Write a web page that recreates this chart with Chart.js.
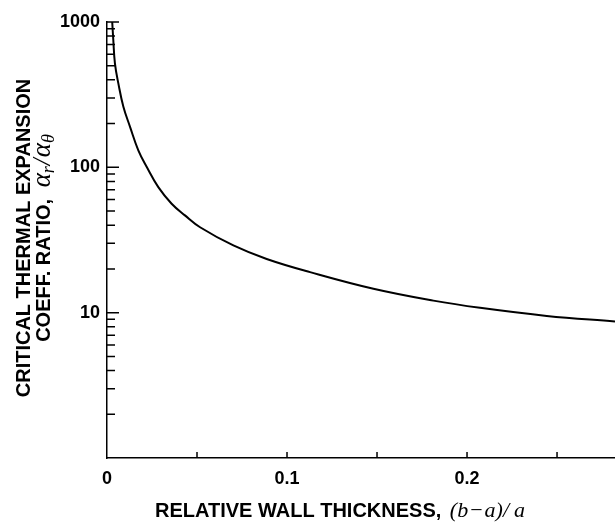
<!DOCTYPE html>
<html>
<head>
<meta charset="utf-8">
<script src="https://cdn.jsdelivr.net/npm/chart.js@4/dist/chart.umd.min.js"></script>
<style>
  html, body { margin: 0; padding: 0; background: #fff; }
  canvas { display: block; }
</style>
</head>
<body>
<canvas id="myChart" width="615" height="522"></canvas>
<script>
// relative wall thickness (b-a)/a
var wallThickness = [0.0029, 0.0035, 0.0044, 0.0063, 0.0091, 0.0128, 0.0174, 0.0221, 0.0285, 0.0359,
  0.0433, 0.0517, 0.0702, 0.0887, 0.1128, 0.148, 0.1813, 0.2072, 0.2443, 0.2822];
// critical thermal expansion coeff. ratio
var coeffRatio = [1000, 752, 519, 378, 261, 190, 131, 100.5, 73.1, 56.2,
  46.7, 38.7, 29.0, 23.4, 19.0, 14.6, 12.1, 10.8, 9.5, 8.7];

var xLabelTicks = [0, 0.1, 0.2];
var xSmallTicks = [0.05, 0.1, 0.15, 0.2, 0.25];
var yMajorTicks = [10, 100, 1000];
var yMinorTicks = [2, 3, 4, 5, 6, 7, 8, 9, 20, 30, 40, 50, 60, 70, 80, 90,
  200, 300, 400, 500, 600, 700, 800, 900];

var xTitle = 'RELATIVE WALL THICKNESS, ';
var yTitle1 = 'CRITICAL THERMAL EXPANSION';
var yTitle2 = 'COEFF. RATIO, ';

var sans = '"Liberation Sans", Arial, sans-serif';
var serif = '"Liberation Serif", "DejaVu Serif", serif';

var punkte = [];
for (var i = 0; i < wallThickness.length; i++) {
  punkte.push({ x: wallThickness[i], y: coeffRatio[i] });
}

// draws a row of text pieces; start = left end, or centre if mitte is set
function zeileMalen(ctx, stuecke, start, cy, mitte) {
  var gesamt = 0;
  stuecke.forEach(function (s) {
    ctx.font = s.font;
    s.w = ctx.measureText(s.t).width;
    gesamt += s.w + (s.gap || 0);
  });
  var x = mitte ? start - gesamt / 2 : start;
  ctx.textBaseline = 'alphabetic';
  ctx.textAlign = 'left';
  stuecke.forEach(function (s) {
    ctx.font = s.font;
    ctx.fillText(s.t, x, cy + (s.dy || 0));
    x += s.w + (s.gap || 0);
  });
}

var achsenPlugin = {
  id: 'achsen',
  afterDraw: function (chart) {
    var ctx = chart.ctx;
    var xs = chart.scales.x;
    var ys = chart.scales.y;
    var area = chart.chartArea;
    ctx.save();
    ctx.strokeStyle = '#000';
    ctx.fillStyle = '#000';
    ctx.lineWidth = 1.5;

    // inward ticks on the y axis
    ctx.beginPath();
    yMajorTicks.forEach(function (v) {
      var py = ys.getPixelForValue(v);
      ctx.moveTo(area.left, py);
      ctx.lineTo(area.left + 12, py);
    });
    yMinorTicks.forEach(function (v) {
      var py = ys.getPixelForValue(v);
      ctx.moveTo(area.left, py);
      ctx.lineTo(area.left + 8, py);
    });
    // inward ticks on the x axis
    xSmallTicks.forEach(function (v) {
      var px = xs.getPixelForValue(v);
      ctx.moveTo(px, area.bottom);
      ctx.lineTo(px, area.bottom - 6);
    });
    ctx.stroke();

    // x title
    zeileMalen(ctx, [
      { t: xTitle, font: 'bold 20px ' + sans, gap: 3 },
      { t: '(', font: 'italic 22px ' + serif },
      { t: 'b', font: 'italic 22px ' + serif, gap: 2 },
      { t: '\u2212', font: '22px ' + serif, gap: 2 },
      { t: 'a', font: 'italic 22px ' + serif },
      { t: ')/', font: 'italic 22px ' + serif, gap: 5 },
      { t: 'a', font: 'italic 22px ' + serif }
    ], 155, 517, false);

    // y title, two rotated lines
    ctx.translate(0, 238);
    ctx.rotate(-Math.PI / 2);
    zeileMalen(ctx, [{ t: yTitle1, font: 'bold 20px ' + sans }], 0, 30, true);
    zeileMalen(ctx, [
      { t: yTitle2, font: 'bold 20px ' + sans, gap: 6 },
      { t: '\u03b1', font: 'italic 27px ' + serif },
      { t: 'r', font: 'italic 18px ' + serif, dy: 4, gap: 1 },
      { t: '/', font: 'italic 25px ' + serif, gap: 1 },
      { t: '\u03b1', font: 'italic 27px ' + serif },
      { t: '\u03b8', font: 'italic 18px ' + serif, dy: 4 }
    ], 0, 50, true);
    ctx.restore();
  }
};

var ctx = document.getElementById('myChart');
var chart = new Chart(ctx, {
  type: 'line',
  data: {
    datasets: [{
      data: punkte,
      borderColor: '#000',
      borderWidth: 2,
      pointRadius: 0,
      fill: false,
      tension: 0.4
    }]
  },
  options: {
    responsive: false,
    animation: false,
    devicePixelRatio: 1,
    layout: { padding: { top: 22, left: 0, right: 0, bottom: 0 } },
    plugins: {
      legend: { display: false },
      tooltip: { enabled: false },
      title: { display: false }
    },
    scales: {
      x: {
        type: 'linear',
        min: 0,
        max: 0.2822,
        grid: { display: false, drawTicks: false },
        border: { display: true, color: '#000', width: 1.5 },
        afterBuildTicks: function (s) {
          s.ticks = xLabelTicks.map(function (v) { return { value: v }; });
        },
        afterFit: function (s) {
          s.height = 64;
          s.paddingLeft = 0;
          s.paddingRight = 0;
        },
        ticks: {
          padding: 10,
          color: '#000',
          font: { family: sans, size: 18, weight: 'bold' },
          callback: function (v) { return v === 0 ? '0' : v.toFixed(1); }
        }
      },
      y: {
        type: 'logarithmic',
        min: 1,
        max: 1000,
        grid: { display: false, drawTicks: false },
        border: { display: true, color: '#000', width: 1.5 },
        afterBuildTicks: function (s) {
          s.ticks = yMajorTicks.map(function (v) { return { value: v }; });
        },
        afterFit: function (s) {
          s.width = 107;
          s.paddingTop = 0;
          s.paddingBottom = 0;
        },
        ticks: {
          padding: 7,
          color: '#000',
          font: { family: sans, size: 18, weight: 'bold' },
          callback: function (v) { return String(v); }
        }
      }
    }
  },
  plugins: [achsenPlugin]
});
</script>
</body>
</html>
